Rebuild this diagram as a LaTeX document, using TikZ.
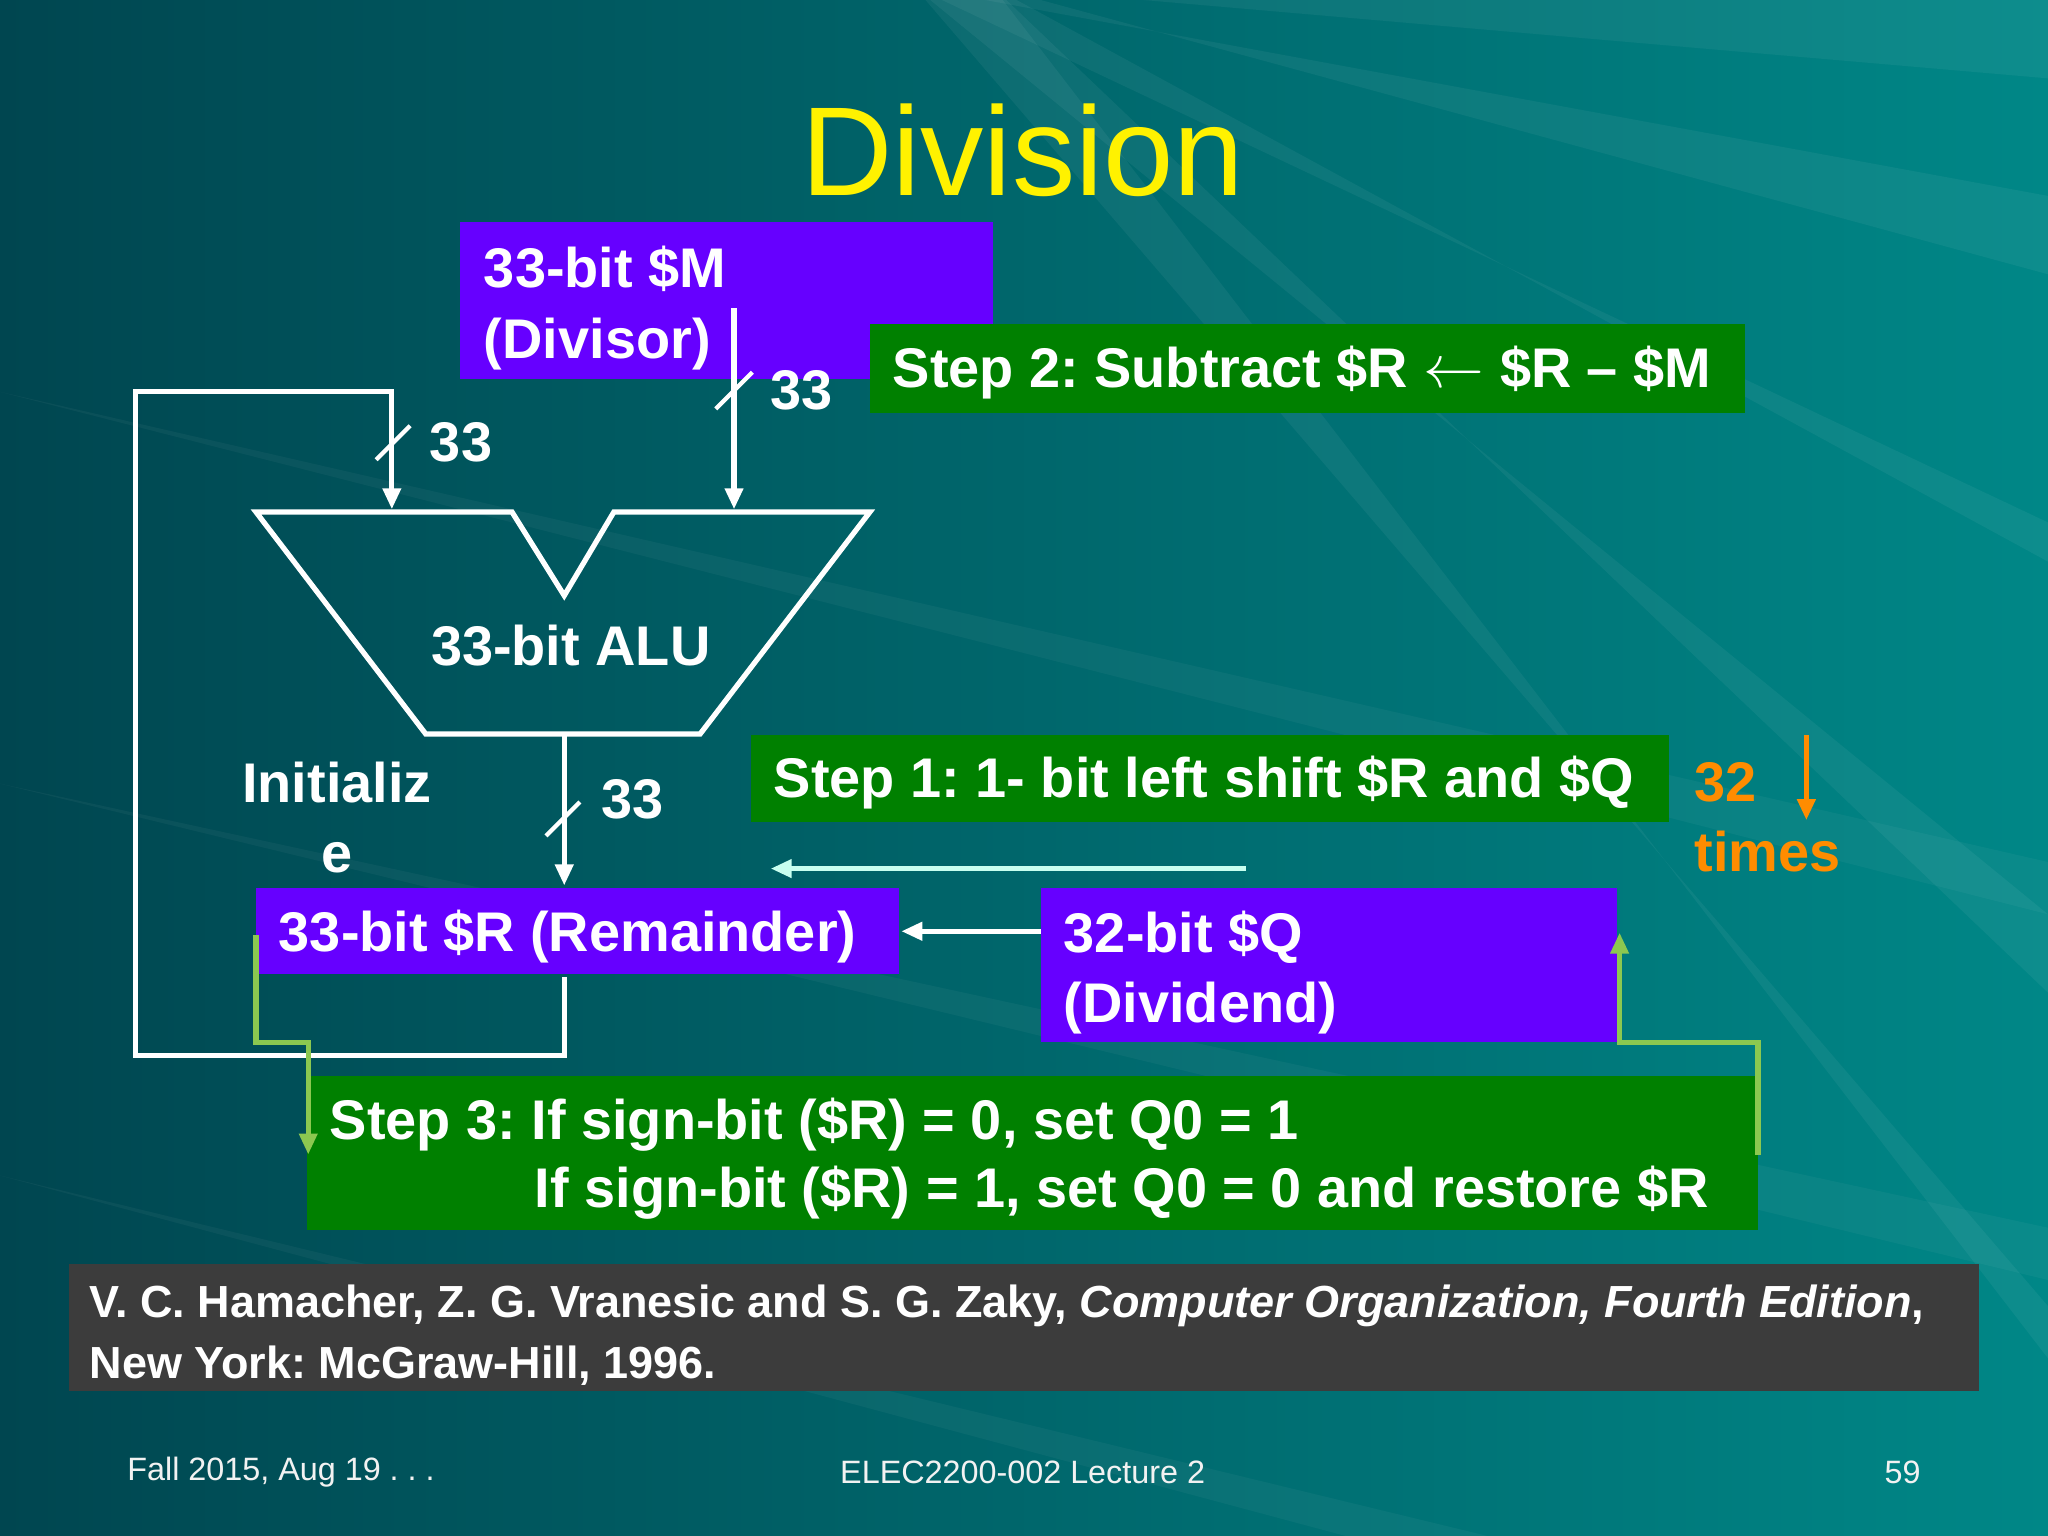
\documentclass[tikz,border=0pt]{standalone}
\usepackage{fontspec}
\setmainfont{Liberation Sans}
\usetikzlibrary{arrows.meta}
\frenchspacing
\definecolor{bgA}{RGB}{0,70,80}
\definecolor{bgB}{RGB}{0,135,135}
\definecolor{purp}{RGB}{102,0,255}
\definecolor{grn}{RGB}{0,128,0}
\definecolor{orng}{RGB}{255,140,0}
\definecolor{lgrn}{RGB}{140,200,80}
\definecolor{cyl}{RGB}{200,255,240}
\definecolor{cite}{RGB}{60,60,60}
\begin{document}
\begin{tikzpicture}[x=0.01306cm,y=-0.01306cm,
  big/.style={font=\fontsize{15.9}{20}\selectfont\bfseries,text=white,inner sep=0pt,align=left},
  wire/.style={draw=white,line width=1.5pt},
  arr/.style={-{Triangle[width=5pt,length=6pt]}},
  slash/.style={draw=white,line width=1.2pt}]
\useasboundingbox (0,0) rectangle (1568,1176);
\shade[left color=bgA,right color=bgB] (0,0) rectangle (1568,1176);
\foreach \a/\b in {0/60,150/210,400/430,700/760,1000/1040}{
  \fill[white,opacity=0.05] (1568,\a) -- (700,-10) -- (760,-10) -- (1568,\b) -- cycle;}
\foreach \a/\b in {300/360,600/640,900/980}{
  \fill[white,opacity=0.04] (0,\a) -- (1568,\b+300) -- (1568,\b+340) -- cycle;}
% title
\node[text=yellow,font=\fontsize{36}{40}\selectfont] (title) at (783,115) {Division};
% boxes
\fill[purp] (352,170) rectangle (760,290);
\node[big,anchor=north west] (M) at (370,188) {33-bit \$M\\(Divisor)};
\fill[grn] (666,248) rectangle (1336,316);
\node[big,anchor=west] (s2) at (683,285) {Step 2: Subtract \$R $\leftarrow$ \$R -- \$M};
\fill[grn] (575,563) rectangle (1278,629);
\node[big,anchor=west] (s1) at (592,599) {Step 1: 1- bit left shift \$R and \$Q};
\fill[purp] (196,680) rectangle (688,746);
\node[big,anchor=west] (R) at (213,717) {33-bit \$R (Remainder)};
\fill[purp] (797,680) rectangle (1238,798);
\node[big,anchor=north west] (Q) at (814,697) {32-bit \$Q\\(Dividend)};
\fill[grn] (235,824) rectangle (1346,942);
\node[big,anchor=west] (s3a) at (252,861) {Step 3: If sign-bit (\$R) = 0, set Q0 = 1};
\node[big,anchor=west] (s3b) at (409,913) {If sign-bit (\$R) = 1, set Q0 = 0 and restore \$R};
% ALU
\draw[wire,line join=miter] (196,392) -- (392,392) -- (432,456) -- (470,392) -- (666,392) -- (536,562) -- (326,562) -- cycle;
\node[big] (alu) at (437,494) {33-bit ALU};
% wires
\coordinate (m0) at (562,236); \coordinate (m1) at (562,390);
\draw[wire,arr,white] (m0) -- (m1);
\draw[slash] (548,313) -- (576,285);
\node[big] (l1) at (614,299) {33};
\coordinate (f0) at (432,748); \coordinate (f1) at (300,390);
\draw[wire,arr,white] (f0) -- (432,808) -- (104,808) -- (104,300) -- (300,300) -- (f1);
\draw[slash] (288,352) -- (314,326);
\node[big] (l2) at (353,339) {33};
\coordinate (a0) at (432,562); \coordinate (a1) at (432,678);
\draw[wire,arr,white] (a0) -- (a1);
\draw[slash] (418,640) -- (444,614);
\node[big] (l3) at (484,612) {33};
\node[big,align=center] (init) at (258,626) {Initializ\\e};
\draw[wire,arr,white] (797,713) -- (690,713);
\draw[draw=cyl,line width=1.5pt,arr,cyl] (954,665) -- (590,665);
% 32 times
\node[big,text=orng,anchor=west] (n32) at (1297,599) {32};
\node[big,text=orng,anchor=west] (tm) at (1297,652) {times};
\draw[draw=orng,line width=1.5pt,arr,orng] (1383,563) -- (1383,628);
% light green
\draw[draw=lgrn,line width=1.5pt,arr,lgrn] (196,716) -- (196,798) -- (236,798) -- (236,884);
\draw[draw=lgrn,line width=1.5pt,arr,lgrn] (1346,884) -- (1346,798) -- (1240,798) -- (1240,714);
% citation
\fill[cite] (53,968) rectangle (1515,1065);
\node[font=\fontsize{12.8}{17.3}\selectfont\bfseries,text=white,anchor=north west,inner sep=0pt,align=left] (cit) at (68,983)
 {V. C. Hamacher, Z. G. Vranesic and S. G. Zaky, \textit{Computer Organization, Fourth Edition},\\New York: McGraw-Hill, 1996.};
% footer
\node[font=\fontsize{9.2}{11}\selectfont,text=white!90!gray,anchor=west] (f1t) at (88,1127) {Fall 2015, Aug 19 . . .};
\node[font=\fontsize{9.2}{11}\selectfont,text=white!90!gray] (f2t) at (783,1127) {ELEC2200-002 Lecture 2};
\node[font=\fontsize{9.2}{11}\selectfont,text=white!90!gray,anchor=east] (f3t) at (1480,1127) {59};
\end{tikzpicture}
\end{document}
